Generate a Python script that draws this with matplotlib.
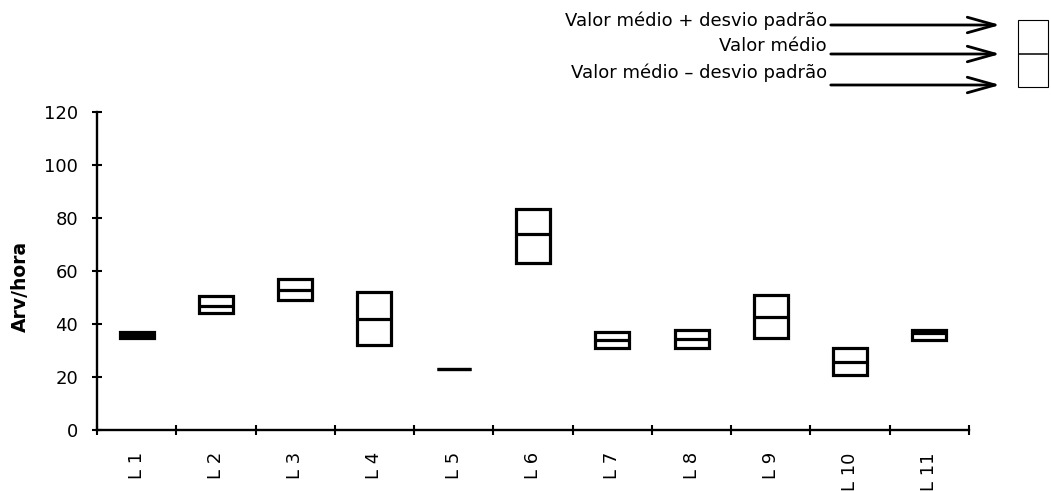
import matplotlib.pyplot as plt
from matplotlib.patches import Rectangle, FancyArrowPatch
from matplotlib.lines import Line2D

# data
locais = ["L 1", "L 2", "L 3", "L 4", "L 5", "L 6", "L 7", "L 8", "L 9", "L 10", "L 11"]
media = [36.0, 46.8, 52.8, 41.7, 22.9, 73.9, 33.8, 34.3, 42.5, 25.5, 36.6]
media_mais_dp = [37.1, 50.4, 56.9, 52.1, 22.9, 83.5, 37.1, 37.7, 51.1, 31.1, 37.7]
media_menos_dp = [34.9, 44.1, 49.0, 32.0, 22.9, 63.1, 31.0, 31.0, 34.8, 20.7, 33.9]

legend_texts = ["Valor médio + desvio padrão", "Valor médio", "Valor médio \u2013 desvio padrão"]

W, H = 1051, 491


def fx(px):
    return px / W


def fy(py):
    return 1 - py / H


plt.rcParams["font.family"] = "DejaVu Sans"
plt.rcParams["font.size"] = 13

fig = plt.figure(figsize=(W / 100, H / 100), dpi=100)
ax = fig.add_axes([fx(97), fy(430), fx(969) - fx(97), fy(112) - fy(430)])

centers = [i + 0.5 for i in range(len(locais))]
alturas = [a - b for a, b in zip(media_mais_dp, media_menos_dp)]
box_w = 0.43

ax.bar(centers, alturas, width=box_w, bottom=media_menos_dp, fill=False,
       edgecolor="black", linewidth=2.3)
ax.hlines(media, [c - box_w / 2 for c in centers], [c + box_w / 2 for c in centers],
          colors="black", linewidth=2.3)

ax.set_xlim(0, len(locais))
ax.set_ylim(0, 120)
ax.set_yticks(range(0, 121, 20))
ax.set_xticks(range(0, len(locais) + 1))
ax.set_xticklabels([])
ax.set_xticks(centers, minor=True)
ax.set_xticklabels(locais, minor=True, rotation=90, va="top", ha="center")

for s in ["top", "right"]:
    ax.spines[s].set_visible(False)
for s in ["left", "bottom"]:
    ax.spines[s].set_linewidth(1.7)

ax.tick_params(axis="both", which="major", direction="inout", length=7, width=1.5)
ax.tick_params(axis="y", which="major", pad=10)
ax.tick_params(axis="x", which="minor", length=0, pad=16)

fig.text(fx(20), fy(286), "Arv/hora", rotation=90, ha="center", va="center",
         fontweight="bold", fontsize=13.5)

# legend drawn by hand at top right
text_y = [26, 51, 78]
arrow_y = [25, 54, 85]
for t, ty, ay in zip(legend_texts, text_y, arrow_y):
    fig.text(fx(827), fy(ty), t, ha="right", va="baseline", fontsize=13)
    arr = FancyArrowPatch((fx(828), fy(ay)), (fx(1003), fy(ay)), transform=fig.transFigure,
                          arrowstyle="->,head_length=1.0,head_width=0.28",
                          mutation_scale=20, linewidth=2.0, color="black")
    fig.add_artist(arr)

fig.add_artist(Rectangle((fx(1018), fy(87)), fx(1048) - fx(1018), fy(20) - fy(87),
                         transform=fig.transFigure, fill=False, edgecolor="black", linewidth=0.8))
fig.add_artist(Line2D([fx(1019), fx(1047)], [fy(54), fy(54)], transform=fig.transFigure,
                      color="black", linewidth=1.1))

fig.savefig("out.png", dpi=100)
